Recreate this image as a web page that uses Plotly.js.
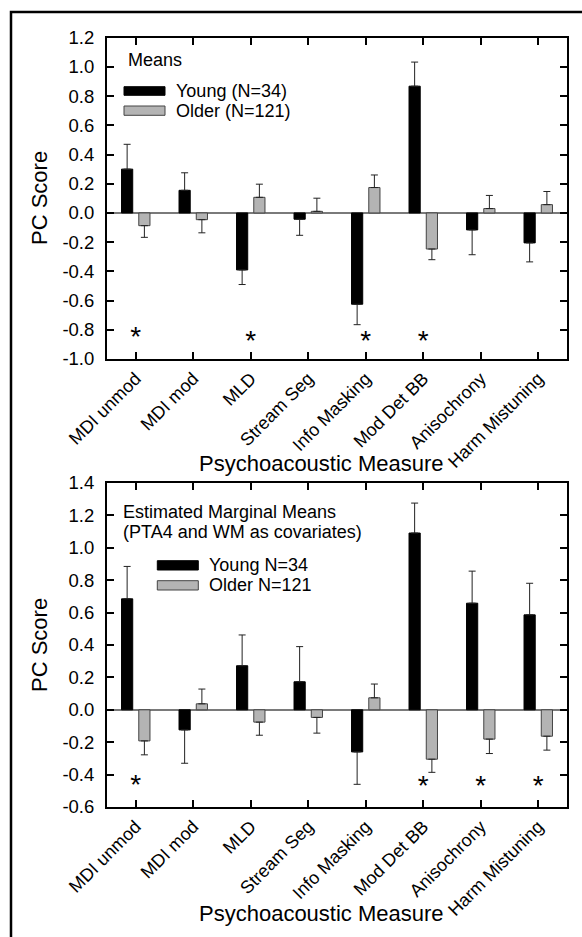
<!DOCTYPE html>
<html>
<head>
<meta charset="utf-8">
<script src="https://cdn.plot.ly/plotly-3.0.1.min.js"></script>
<style>
html,body{margin:0;padding:0;background:#fff;}
#chart{width:582px;height:937px;}
</style>
</head>
<body>
<div id="chart"></div>
<script>
// ---- data ----
const categories = ['MDI unmod','MDI mod','MLD','Stream Seg','Info Masking','Mod Det BB','Anisochrony','Harm Mistuning'];

// Panel 1: Means
const meansYoung    = [0.300, 0.155, -0.390, -0.043, -0.625, 0.868, -0.116, -0.205];
const meansYoungErr = [0.170, 0.120, 0.100, 0.110, 0.140, 0.165, 0.170, 0.130];
const meansOlder    = [-0.087, -0.046, 0.107, 0.011, 0.174, -0.247, 0.030, 0.057];
const meansOlderErr = [0.080, 0.090, 0.090, 0.090, 0.086, 0.073, 0.090, 0.090];
const meansNames    = ['Young (N=34)', 'Older (N=121)'];
const meansSigCats  = ['MDI unmod','MLD','Info Masking','Mod Det BB'];
const meansSigY     = [-0.866, -0.890, -0.890, -0.890];

// Panel 2: Estimated Marginal Means
const emmYoung    = [0.685, -0.124, 0.272, 0.173, -0.260, 1.091, 0.658, 0.586];
const emmYoungErr = [0.200, 0.206, 0.190, 0.217, 0.200, 0.185, 0.198, 0.195];
const emmOlder    = [-0.192, 0.037, -0.076, -0.047, 0.074, -0.305, -0.181, -0.163];
const emmOlderErr = [0.086, 0.091, 0.081, 0.097, 0.085, 0.081, 0.089, 0.086];
const emmNames    = ['Young N=34', 'Older N=121'];
const emmSigCats  = ['MDI unmod','Mod Det BB','Anisochrony','Harm Mistuning'];
const emmSigY     = [-0.475, -0.482, -0.482, -0.482];

// tick labels
const yTicks1 = [-1.0,-0.8,-0.6,-0.4,-0.2,0.0,0.2,0.4,0.6,0.8,1.0,1.2];
const yText1  = ['-1.0','-0.8','-0.6','-0.4','-0.2','0.0','0.2','0.4','0.6','0.8','1.0','1.2'];
const yTicks2 = [-0.6,-0.4,-0.2,0.0,0.2,0.4,0.6,0.8,1.0,1.2,1.4];
const yText2  = ['-0.6','-0.4','-0.2','0.0','0.2','0.4','0.6','0.8','1.0','1.2','1.4'];

const panelTitle1 = 'Means';
const panelTitle2a = 'Estimated Marginal Means';
const panelTitle2b = '(PTA4 and WM as covariates)';
const xTitle = 'Psychoacoustic Measure';
const yTitle = 'PC Score';

// ---- helpers ----
const W = 582, H = 937;
const FONT = 'Liberation Sans, Arial, Helvetica, sans-serif';
const X = px => px / W;
const Y = py => 1 - py / H;
const up = (v, e) => v.map((d, i) => d >= 0 ? e[i] : 0);
const dn = (v, e) => v.map((d, i) => d < 0 ? e[i] : 0);

const YOUNG_FILL = '#000000', YOUNG_LINE = '#000000';
const OLDER_FILL = '#b4b4b4', OLDER_LINE = '#444444';
const ERR = {color: '#222222', thickness: 1, width: 3.5};

function barTrace(vals, errs, name, fill, line, xa, ya) {
  return {
    type: 'bar', x: categories, y: vals, name: name,
    xaxis: xa, yaxis: ya, showlegend: false,
    marker: {color: fill, line: {color: line, width: 1}},
    error_y: Object.assign({type: 'data', symmetric: false, array: up(vals, errs), arrayminus: dn(vals, errs)}, ERR),
    hoverinfo: 'x+y'
  };
}
function starTrace(cats, ys, xa, ya) {
  return {
    type: 'scatter', mode: 'text', x: cats, y: ys, text: cats.map(() => '*'),
    textposition: 'middle center', xaxis: xa, yaxis: ya, showlegend: false,
    textfont: {family: FONT, size: 28, color: '#000'}, hoverinfo: 'skip'
  };
}

const traces = [
  barTrace(meansYoung, meansYoungErr, meansNames[0], YOUNG_FILL, YOUNG_LINE, 'x', 'y'),
  barTrace(meansOlder, meansOlderErr, meansNames[1], OLDER_FILL, OLDER_LINE, 'x', 'y'),
  starTrace(meansSigCats, meansSigY, 'x', 'y'),
  barTrace(emmYoung, emmYoungErr, emmNames[0], YOUNG_FILL, YOUNG_LINE, 'x2', 'y2'),
  barTrace(emmOlder, emmOlderErr, emmNames[1], OLDER_FILL, OLDER_LINE, 'x2', 'y2'),
  starTrace(emmSigCats, emmSigY, 'x2', 'y2')
];

const xCommon = {
  type: 'category', range: [-0.5, 7.5], categoryorder: 'array', categoryarray: categories,
  showline: true, linecolor: '#000', linewidth: 2, mirror: 'ticks',
  ticks: 'inside', ticklen: 7, tickwidth: 2, tickcolor: '#000',
  tickangle: -45, tickfont: {family: FONT, size: 18, color: '#000'},
  showgrid: false, zeroline: false, fixedrange: true, automargin: false
};
const yCommon = {
  showline: true, linecolor: '#000', linewidth: 2, mirror: 'ticks',
  ticks: 'inside', ticklen: 7, tickwidth: 2, tickcolor: '#000',
  tickmode: 'array', tickfont: {family: FONT, size: 18.5, color: '#000'},
  showgrid: false, zeroline: true, zerolinecolor: '#7a7a7a', zerolinewidth: 1.5,
  fixedrange: true, automargin: false, ticklabelstandoff: 7
};

const dx = [X(107), X(567)];
const layout = {
  width: W, height: H,
  margin: {l: 0, r: 0, t: 0, b: 0},
  paper_bgcolor: '#fff', plot_bgcolor: '#fff',
  font: {family: FONT, color: '#000'},
  barmode: 'group', bargap: 0.40, bargroupgap: 0.35,
  xaxis:  Object.assign({}, xCommon, {domain: dx, anchor: 'y'}),
  yaxis:  Object.assign({}, yCommon, {domain: [Y(359), Y(37.7)], anchor: 'x', range: [-1.0, 1.2], tickvals: yTicks1, ticktext: yText1}),
  xaxis2: Object.assign({}, xCommon, {domain: dx, anchor: 'y2'}),
  yaxis2: Object.assign({}, yCommon, {domain: [Y(807), Y(483)], anchor: 'x2', range: [-0.6, 1.4], tickvals: yTicks2, ticktext: yText2}),
  shapes: [
    // outer frame (cropped at right/bottom)
    {type: 'rect', xref: 'paper', yref: 'paper', x0: X(11), x1: 1.05, y0: -0.05, y1: Y(12), line: {color: '#000', width: 2.5}, fillcolor: 'rgba(0,0,0,0)'},
    // legend swatches panel 1
    {type: 'rect', xref: 'paper', yref: 'paper', x0: X(124), x1: X(165), y0: Y(95.3), y1: Y(86.7), line: {color: YOUNG_LINE, width: 1}, fillcolor: YOUNG_FILL},
    {type: 'rect', xref: 'paper', yref: 'paper', x0: X(124), x1: X(165), y0: Y(115.3), y1: Y(106), line: {color: OLDER_LINE, width: 1}, fillcolor: OLDER_FILL},
    // legend swatches panel 2
    {type: 'rect', xref: 'paper', yref: 'paper', x0: X(157.3), x1: X(198.3), y0: Y(570), y1: Y(560.7), line: {color: YOUNG_LINE, width: 1}, fillcolor: YOUNG_FILL},
    {type: 'rect', xref: 'paper', yref: 'paper', x0: X(157.3), x1: X(198.3), y0: Y(590), y1: Y(580.7), line: {color: OLDER_LINE, width: 1}, fillcolor: OLDER_FILL}
  ],
  annotations: [
    {text: yTitle, xref: 'paper', yref: 'paper', x: X(39), y: Y(198), textangle: -90, showarrow: false, xanchor: 'center', yanchor: 'middle', font: {size: 22}},
    {text: yTitle, xref: 'paper', yref: 'paper', x: X(39), y: Y(645), textangle: -90, showarrow: false, xanchor: 'center', yanchor: 'middle', font: {size: 22}},
    {text: xTitle, xref: 'paper', yref: 'paper', x: X(321), y: Y(463), showarrow: false, xanchor: 'center', yanchor: 'middle', font: {size: 22}},
    {text: xTitle, xref: 'paper', yref: 'paper', x: X(321), y: Y(913), showarrow: false, xanchor: 'center', yanchor: 'middle', font: {size: 22}},
    {text: panelTitle1, xref: 'paper', yref: 'paper', x: X(126), y: Y(60), showarrow: false, xanchor: 'left', yanchor: 'middle', font: {size: 18}},
    {text: meansNames[0], xref: 'paper', yref: 'paper', x: X(174), y: Y(91), showarrow: false, xanchor: 'left', yanchor: 'middle', font: {size: 18}},
    {text: meansNames[1], xref: 'paper', yref: 'paper', x: X(174), y: Y(111), showarrow: false, xanchor: 'left', yanchor: 'middle', font: {size: 18}},
    {text: panelTitle2a, xref: 'paper', yref: 'paper', x: X(121), y: Y(512), showarrow: false, xanchor: 'left', yanchor: 'middle', font: {size: 18}},
    {text: panelTitle2b, xref: 'paper', yref: 'paper', x: X(121), y: Y(532), showarrow: false, xanchor: 'left', yanchor: 'middle', font: {size: 18}},
    {text: emmNames[0], xref: 'paper', yref: 'paper', x: X(207), y: Y(565), showarrow: false, xanchor: 'left', yanchor: 'middle', font: {size: 18}},
    {text: emmNames[1], xref: 'paper', yref: 'paper', x: X(207), y: Y(585), showarrow: false, xanchor: 'left', yanchor: 'middle', font: {size: 18}}
  ]
};

Plotly.newPlot('chart', traces, layout, {displayModeBar: false, staticPlot: true});
</script>
</body>
</html>
